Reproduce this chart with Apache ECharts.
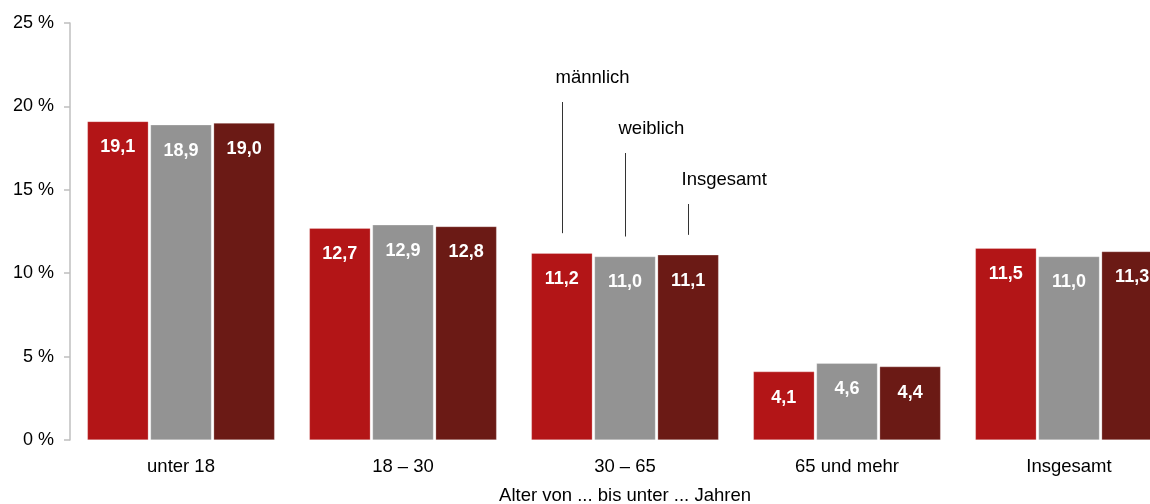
<!DOCTYPE html>
<html><head><meta charset="utf-8">
<script src="https://cdn.jsdelivr.net/npm/echarts@6/dist/echarts.min.js"></script>
<style>html,body{margin:0;padding:0;background:#fff}#c{width:1150px;height:504px}</style>
</head><body><div id="c"></div>
<script>
const categories = ['unter 18', '18 – 30', '30 – 65', '65 und mehr', 'Insgesamt'];
const maennlich = [19.1, 12.7, 11.2, 4.1, 11.5];
const weiblich = [18.9, 12.9, 11.0, 4.6, 11.0];
const insgesamt = [19.0, 12.8, 11.1, 4.4, 11.3];
const seriesNames = ['männlich', 'weiblich', 'Insgesamt'];
const colors = ['#b31517', '#939393', '#6b1a15'];
const yTicks = [0, 5, 10, 15, 20, 25];
const annotCategory = 2;

const chart = echarts.init(document.getElementById('c'), null, {renderer: 'canvas'});
const font = 'Arial, "Liberation Sans", sans-serif';
const fmt = v => v.toFixed(1).replace('.', ',');
const data = [maennlich, weiblich, insgesamt];
chart.setOption({
  animation: false,
  grid: {left: 70, top: 23, bottom: 64, width: 1110, containLabel: false, outerBoundsMode: 'none'},
  xAxis: {
    type: 'category', data: categories,
    axisLine: {show: false}, axisTick: {show: false},
    axisLabel: {color: '#000', fontSize: 18.5, fontFamily: font, margin: 17},
    name: 'Alter von ... bis unter ... Jahren', nameLocation: 'middle', nameGap: 46,
    nameTextStyle: {color: '#000', fontSize: 18.5, fontFamily: font}
  },
  yAxis: {
    type: 'value', min: yTicks[0], max: yTicks[yTicks.length - 1], interval: 5,
    splitLine: {show: false},
    axisLine: {show: true, lineStyle: {color: '#bfbfbf', width: 1.5}},
    axisTick: {show: true, length: 6, lineStyle: {color: '#bfbfbf', width: 1.5}},
    axisLabel: {color: '#000', fontSize: 18, fontFamily: font, margin: 16, formatter: v => v + ' %'}
  },
  series: data.map((d, i) => ({
    name: seriesNames[i], type: 'bar', data: d, barWidth: 61, barGap: '3.5%',
    itemStyle: {color: colors[i], borderColor: 'rgba(255,255,255,0.5)', borderWidth: 0.5},
    label: {show: true, position: 'insideTop', distance: 17, color: '#fff', fontWeight: 'bold',
      fontSize: 18, fontFamily: font, formatter: p => fmt(p.value)}
  }))
});

// annotation lines above the bars of the "30 – 65" group
const graphics = [];
const tops = [102, 153, 204];
data.forEach((d, i) => {
  const lay = chart.getModel().getSeriesByIndex(i).getData().getItemLayout(annotCategory);
  const x = Math.round(lay.x + lay.width / 2) + 0.5;
  const barTop = Math.min(lay.y, lay.y + lay.height);
  const bottom = barTop - 20;
  const top = tops[i];
  graphics.push({type: 'line', shape: {x1: x, y1: top, x2: x, y2: bottom}, style: {stroke: '#333', lineWidth: 1}});
  graphics.push({type: 'text', x: x - 7, y: top - 24, style: {text: seriesNames[i], fill: '#000', font: '18.5px ' + font, textVerticalAlign: 'middle'}});
});
chart.setOption({graphic: graphics});
</script></body></html>
